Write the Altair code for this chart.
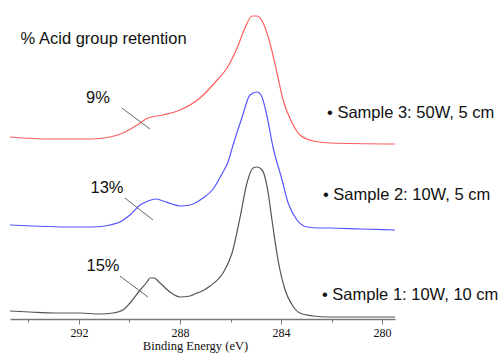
import altair as alt
import pandas as pd

# Binding energy (eV) / intensity (arbitrary units, offset stacks)
s1_energy = [294.73, 293.94, 292.95, 291.96, 291.17, 290.65, 290.26, 289.98, 289.58, 289.31,
             289.19, 289.03, 288.79, 288.40, 288.00, 287.60, 287.33, 287.21, 286.81, 286.30,
             285.94, 285.62, 285.35, 285.11, 284.95, 284.75, 284.55, 284.36,
             284.12, 283.84, 283.56, 283.25, 282.73, 282.06, 280.87, 279.49]
s1_int = [8, 7, 6, 6, 5, 6, 9, 16, 29, 37,
          41, 41, 36, 27, 22, 23, 26, 27, 33, 46,
          66, 102, 136, 151, 152, 149, 132, 99,
          59, 29, 14, 6, 3, 2, 2, 2]

s2_energy = [294.73, 293.82, 292.48, 291.45, 290.77, 290.38, 289.98, 289.58, 289.27, 288.95,
             288.67, 288.32, 288.00, 287.60, 287.09, 286.69, 286.32, 286.10, 285.90, 285.54,
             285.23, 284.95, 284.79, 284.55, 284.32, 283.96, 283.72, 283.37, 282.97, 282.46,
             282.06, 280.87, 279.49]
s2_int = [94, 93, 92, 92, 94, 97, 104, 114, 118, 120,
          118, 115, 113, 114, 121, 130, 146, 157, 174, 202,
          224, 227, 224, 202, 172, 139, 116, 99, 92, 91,
          91, 90, 89]

s3_energy = [294.73, 293.15, 291.56, 290.77, 290.26, 289.70, 289.27, 288.67, 288.00, 287.21,
             286.53, 286.14, 285.74, 285.43, 285.15, 284.95, 284.71, 284.44, 284.16,
             283.92, 283.56, 283.25, 282.73, 282.06, 279.49]
s3_int = [182, 180, 180, 182, 186, 194, 201, 204, 209, 221,
          239, 251, 271, 291, 303, 303, 296, 276, 246,
          219, 196, 184, 178, 176, 175]

series_names = ["Sample 1", "Sample 2", "Sample 3"]
series_colors = ["#555555", "#5555ff", "#ff5e5e"]

# annotations
pct_text = ["9%", "13%", "15%"]
pct_x = [291.25, 290.89, 291.05]
pct_y = [221, 131, 53]
leader_x = [290.30, 290.18, 290.38]
leader_x2 = [289.19, 289.07, 289.27]
leader_y = [211, 121, 43]
leader_y2 = [190, 99, 22]

label_text = ["% Acid group retention", "\u2022 Sample 3: 50W, 5 cm",
              "\u2022 Sample 2: 10W, 5 cm", "\u2022 Sample 1: 10W, 10 cm"]
label_x = [294.31, 282.18, 282.34, 282.38]
label_y = [280, 206, 124, 24]

tick_values = list(range(280, 295))
x_domain = [294.73, 279.49]
y_domain = [0, 319]

rows = []
for name, es, ys in zip(series_names, [s1_energy, s2_energy, s3_energy], [s1_int, s2_int, s3_int]):
    for i, (e, y) in enumerate(zip(es, ys)):
        rows.append({"series": name, "energy": e, "intensity": y, "idx": i})
df = pd.DataFrame(rows)

pct_df = pd.DataFrame({"text": pct_text, "x": pct_x, "y": pct_y})
leader_df = pd.DataFrame({"x": leader_x, "x2": leader_x2, "y": leader_y, "y2": leader_y2})
lab_df = pd.DataFrame({"text": label_text, "x": label_x, "y": label_y})

xscale = alt.Scale(domain=x_domain, nice=False, zero=False)
yscale = alt.Scale(domain=y_domain, nice=False, zero=False)

xaxis = alt.Axis(
    title="Binding Energy (eV)",
    values=tick_values,
    labelExpr="datum.value % 4 === 0 ? datum.label : ''",
    tickSize={"condition": {"test": "datum.value % 4 === 0", "value": 5}, "value": 3},
    grid=False,
    domainColor="#777777",
    domainWidth=1.5,
    tickColor="#777777",
    labelFont="Liberation Serif",
    labelFontSize=12,
    labelColor="#111111",
    labelPadding=3,
    titleFont="Liberation Serif",
    titleFontSize=12.5,
    titleFontWeight="normal",
    titleColor="#111111",
    titleX=185,
    titleY=26,
    titleBaseline="middle",
    labelFlush=False,
    labelOverlap=False,
)

lines = alt.Chart(df).mark_line(strokeWidth=1.2, interpolate="monotone").encode(
    x=alt.X("energy:Q", scale=xscale, axis=xaxis),
    y=alt.Y("intensity:Q", scale=yscale, axis=None),
    color=alt.Color("series:N", scale=alt.Scale(domain=series_names, range=series_colors), legend=None),
    order="idx:Q",
)

leaders = alt.Chart(leader_df).mark_rule(color="#666666", strokeWidth=1).encode(
    x="x:Q", x2="x2:Q", y="y:Q", y2="y2:Q"
)

pcts = alt.Chart(pct_df).mark_text(
    font="Liberation Sans", fontSize=16.5, align="center", baseline="middle", color="#111111"
).encode(x="x:Q", y="y:Q", text="text:N")

labels = alt.Chart(lab_df).mark_text(
    font="Liberation Sans", fontSize=16.5, align="left", baseline="middle", color="#111111"
).encode(x="x:Q", y="y:Q", text="text:N")

chart = alt.layer(lines, leaders, pcts, labels).properties(
    width=385,
    height=319,
    autosize=alt.AutoSizeParams(type="none"),
    padding={"left": 10, "top": 0, "right": 105, "bottom": 34},
    background="white",
).configure_view(stroke=None)

chart.save("out.html", embed_options={"renderer": "svg", "actions": False})
